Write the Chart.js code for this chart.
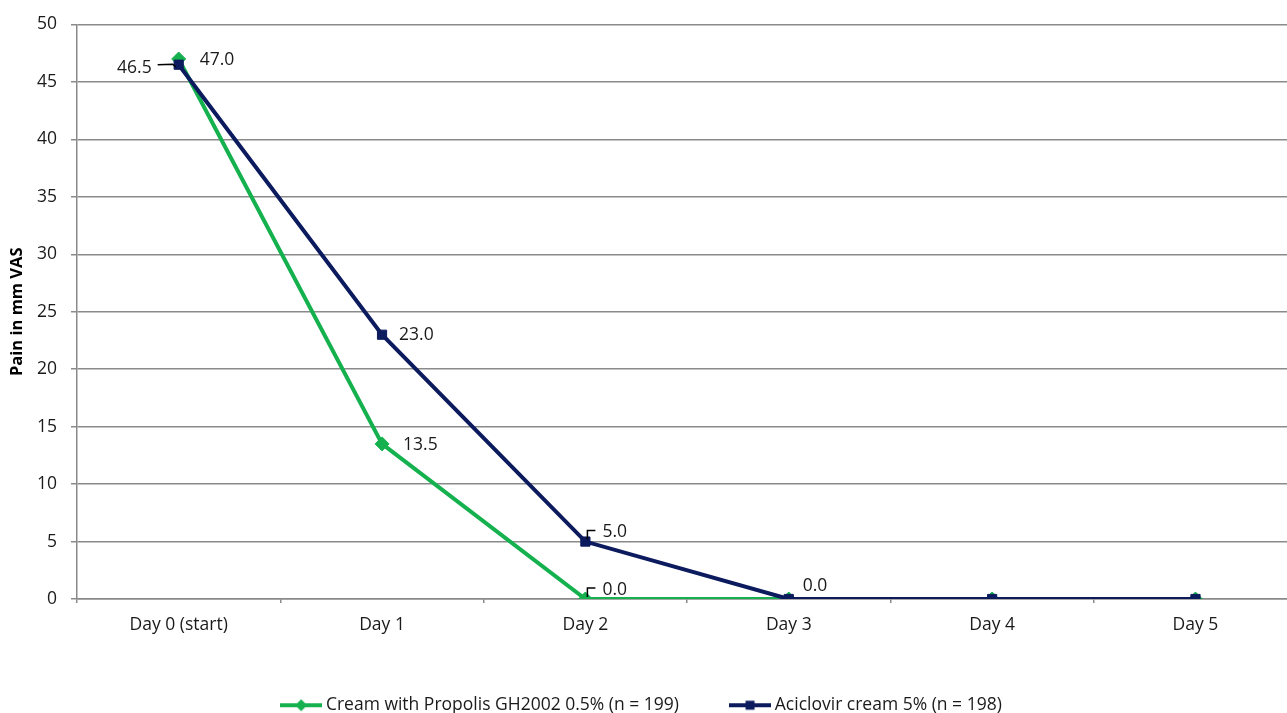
<!DOCTYPE html>
<html>
<head>
<meta charset="utf-8">
<title>Pain in mm VAS</title>
<script src="https://cdn.jsdelivr.net/npm/chart.js@4.4.1/dist/chart.umd.min.js"></script>
<style>
  html, body { margin: 0; padding: 0; background: #ffffff; overflow: hidden; }
  canvas { display: block; }
</style>
</head>
<body>
<canvas id="painChart" width="1287" height="713"></canvas>
<script>
// Day categories along the x axis
const categories = ['Day 0 (start)', 'Day 1', 'Day 2', 'Day 3', 'Day 4', 'Day 5'];

// Mean pain (mm VAS) for each treatment group
const propolisValues = [47.0, 13.5, 0.0, 0.0, 0.0, 0.0];
const aciclovirValues = [46.5, 23.0, 5.0, 0.0, 0.0, 0.0];

// Series names
const propolisName = 'Cream with Propolis GH2002 0.5% (n = 199)';
const aciclovirName = 'Aciclovir cream 5% (n = 198)';

// Y axis range
const yMin = 0;
const yMax = 50;
const yStep = 5;

// Which points carry a value label
const propolisLabelled = [0, 1, 2];
const aciclovirLabelled = [0, 1, 2, 3];

const GREEN = '#15b14e';
const NAVY = '#0c1a5e';
const GRID = '#8a8a8a';
const TEXT = '#1a1a1a';
const FONT = "'Open Sans', 'DejaVu Sans', sans-serif";
const FONT_SIZE = 17.5;

// Legend icon: a short line with the series marker in the middle
function legendIcon(color, marker) {
  const c = document.createElement('canvas');
  c.width = 42; c.height = 14;
  const g = c.getContext('2d');
  g.strokeStyle = color; g.lineWidth = 4;
  g.beginPath(); g.moveTo(0, 7); g.lineTo(42, 7); g.stroke();
  g.fillStyle = color;
  g.beginPath();
  if (marker === 'diamond') {
    g.moveTo(21, 1); g.lineTo(27, 7); g.lineTo(21, 13); g.lineTo(15, 7);
  } else {
    g.rect(16.5, 2.5, 9, 9);
  }
  g.closePath(); g.fill();
  return c;
}
const legendIcons = [legendIcon(GREEN, 'diamond'), legendIcon(NAVY, 'square')];

// Label placement around each labelled point, keyed by dataset then index
const labelPlacement = {
  0: {
    0: { dx: 21, dy: 1.5, align: 'left' },
    1: { dx: 21, dy: 1, align: 'left' },
    2: { dx: 17, dy: -9, align: 'left', leader: 'corner' }
  },
  1: {
    0: { dx: -27, dy: 3, align: 'right', leader: 'left' },
    1: { dx: 17, dy: 0.5, align: 'left' },
    2: { dx: 17, dy: -9.5, align: 'left', leader: 'corner' },
    3: { dx: 14, dy: -13, align: 'left' }
  }
};

const valueLabels = {
  id: 'valueLabels',
  afterDatasetsDraw(chart) {
    const ctx = chart.ctx;
    const sets = [
      { ds: 0, values: propolisValues, idx: propolisLabelled },
      { ds: 1, values: aciclovirValues, idx: aciclovirLabelled }
    ];
    ctx.save();
    ctx.font = FONT_SIZE + 'px ' + FONT;
    ctx.fillStyle = TEXT;
    ctx.strokeStyle = '#000000';
    ctx.lineWidth = 1.5;
    ctx.textBaseline = 'middle';
    sets.forEach(s => {
      const meta = chart.getDatasetMeta(s.ds);
      s.idx.forEach(i => {
        const pt = meta.data[i];
        const p = labelPlacement[s.ds][i];
        if (p.leader === 'left') {
          ctx.beginPath();
          ctx.moveTo(pt.x - 21, pt.y);
          ctx.lineTo(pt.x - 6, pt.y - 0.5);
          ctx.lineTo(pt.x - 3, pt.y + 2);
          ctx.stroke();
        } else if (p.leader === 'corner') {
          ctx.beginPath();
          ctx.moveTo(pt.x + 2, pt.y - 2);
          ctx.lineTo(pt.x + 2, pt.y - 11);
          ctx.lineTo(pt.x + 10, pt.y - 11);
          ctx.stroke();
        }
        ctx.textAlign = p.align;
        ctx.fillText(s.values[i].toFixed(1), pt.x + p.dx, pt.y + p.dy);
      });
    });
    ctx.restore();
  }
};

const toPoints = values => values.map((v, i) => ({ x: i, y: v }));

new Chart(document.getElementById('painChart'), {
  type: 'line',
  data: {
    datasets: [
      {
        label: propolisName,
        data: toPoints(propolisValues),
        borderColor: GREEN,
        backgroundColor: GREEN,
        borderWidth: 4,
        pointStyle: 'rectRot',
        pointRadius: 7,
        pointBorderWidth: 1,
        order: 1,
        tension: 0
      },
      {
        label: aciclovirName,
        data: toPoints(aciclovirValues),
        borderColor: NAVY,
        backgroundColor: NAVY,
        borderWidth: 4,
        pointStyle: 'rect',
        pointRadius: 6.5,
        pointBorderWidth: 1,
        order: 0,
        tension: 0
      }
    ]
  },
  options: {
    responsive: false,
    animation: false,
    devicePixelRatio: 1,
    // the legend reserves 10px below its row; pull it down into the bottom margin
    layout: { autoPadding: false, padding: { top: 24, right: 0, bottom: -11, left: 0 } },
    plugins: {
      tooltip: { enabled: false },
      legend: {
        position: 'bottom',
        align: 'center',
        labels: {
          usePointStyle: true,
          pointStyleWidth: 32,
          padding: 55,
          color: TEXT,
          font: { family: FONT, size: FONT_SIZE },
          sort: (a, b) => a.datasetIndex - b.datasetIndex,
          generateLabels(chart) {
            const items = Chart.defaults.plugins.legend.labels.generateLabels(chart);
            items.forEach(it => { it.pointStyle = legendIcons[it.datasetIndex]; });
            return items;
          }
        }
      }
    },
    scales: {
      x: {
        type: 'linear',
        min: -0.5,
        max: 5.45,
        afterBuildTicks: scale => { scale.ticks = categories.map((_, i) => ({ value: i })); },
        afterFit: scale => {
          scale.height = 42.5;
          scale.paddingLeft = 0;
          scale.paddingRight = 0;
        },
        ticks: {
          autoSkip: false,
          maxRotation: 0,
          padding: 12,
          color: TEXT,
          font: { family: FONT, size: FONT_SIZE },
          callback: v => categories[v]
        },
        grid: {
          offset: true,
          drawOnChartArea: false,
          drawTicks: true,
          tickLength: 4,
          color: GRID,
          lineWidth: 1.5
        },
        border: { display: true, color: GRID, width: 1.5 }
      },
      y: {
        min: yMin,
        max: yMax,
        afterFit: scale => { scale.width = 77; },
        ticks: {
          stepSize: yStep,
          padding: 14,
          color: TEXT,
          font: { family: FONT, size: FONT_SIZE }
        },
        grid: {
          color: GRID,
          lineWidth: 1.5,
          tickLength: 6
        },
        border: { display: true, color: GRID, width: 1.5 },
        title: {
          display: true,
          text: 'Pain in mm VAS',
          color: '#000000',
          font: { family: FONT, size: 16.5, weight: 'bold' },
          padding: { top: 7, bottom: 0 }
        }
      }
    }
  },
  plugins: [valueLabels]
});
</script>
</body>
</html>
